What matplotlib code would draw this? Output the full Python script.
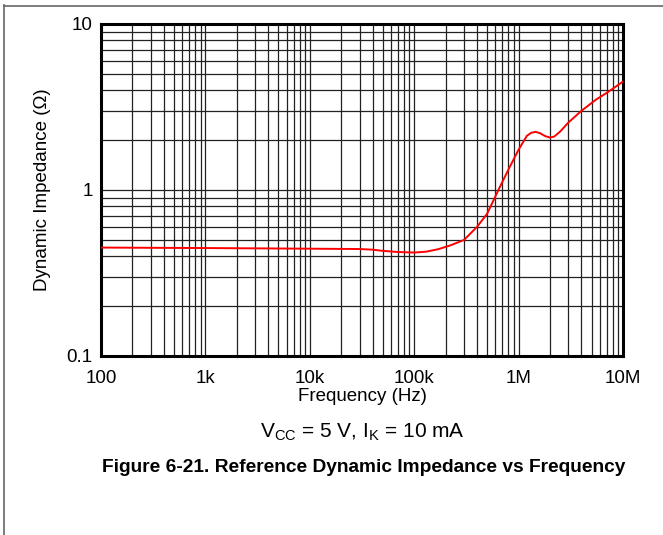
import matplotlib.pyplot as plt
from matplotlib.lines import Line2D
from matplotlib.ticker import LogLocator, FixedLocator, FixedFormatter, NullFormatter

plt.rcParams['font.family'] = ['Liberation Sans', 'DejaVu Sans']

# dynamic impedance readings (Hz, ohm)
freq = [100, 1e3, 1e4, 3e4, 4e4, 5e4, 7e4, 1e5, 1.3e5, 1.7e5, 2.2e5, 3e5, 4e5,
        5e5, 6.5e5, 8e5, 1e6, 1.2e6, 1.32e6, 1.45e6, 1.6e6, 1.8e6, 2e6, 2.2e6,
        2.5e6, 3e6, 4e6, 5.5e6, 7e6, 1e7]
impedance = [0.45, 0.447, 0.443, 0.441, 0.437, 0.43, 0.423, 0.42, 0.425, 0.44,
             0.463, 0.50, 0.60, 0.72, 1.02, 1.33, 1.75, 2.12, 2.21, 2.24, 2.2,
             2.11, 2.07, 2.1, 2.25, 2.55, 3.0, 3.5, 3.85, 4.5]

xticks = [1e2, 1e3, 1e4, 1e5, 1e6, 1e7]
xlabels = ['100', '1k', '10k', '100k', '1M', '10M']
yticks = [0.1, 1, 10]
ylabels = ['0.1', '1', '10']

fig = plt.figure(figsize=(6.63, 5.35), dpi=100)
ax = fig.add_axes([101 / 663, 1 - 356 / 535, 522 / 663, 332 / 535])

ax.plot(freq, impedance, color='red', lw=1.4, zorder=3)

ax.set_xscale('log')
ax.set_yscale('log')
ax.set_xlim(1e2, 1e7)
ax.set_ylim(0.1, 10)

ax.xaxis.set_major_locator(FixedLocator(xticks))
ax.xaxis.set_major_formatter(FixedFormatter(xlabels))
ax.yaxis.set_major_locator(FixedLocator(yticks))
ax.yaxis.set_major_formatter(FixedFormatter(ylabels))
for axis in (ax.xaxis, ax.yaxis):
    axis.set_minor_locator(LogLocator(base=10, subs=range(2, 10), numticks=20))
    axis.set_minor_formatter(NullFormatter())

ax.grid(True, which='both', color='#222222', lw=0.9)
ax.tick_params(which='both', length=0, labelsize=13.5)
ax.tick_params(axis='x', pad=10)
ax.tick_params(axis='y', pad=6)
for s in ax.spines.values():
    s.set_linewidth(2.2)

ax.set_xlabel('Frequency (Hz)', fontsize=13.5, labelpad=1)
ax.set_ylabel('Dynamic Impedance (\u03a9)', fontsize=13.5, labelpad=11)

fig.text(362 / 663, 1 - 432 / 535, '$\\mathregular{V_{CC}}$ = 5 V, $\\mathregular{I_K}$ = 10 mA',
         ha='center', va='center', fontsize=15)
fig.text(364 / 663, 1 - 467 / 535, 'Figure 6-21. Reference Dynamic Impedance vs Frequency',
         ha='center', va='center', fontsize=13.8, fontweight='bold')

# page frame
fig.add_artist(Line2D([4 / 663, 4 / 663], [0, 1 - 5 / 535], transform=fig.transFigure,
                      color='#666666', lw=1.2))
fig.add_artist(Line2D([4 / 663, 1], [1 - 5.5 / 535, 1 - 5.5 / 535], transform=fig.transFigure,
                      color='#666666', lw=1.2))

fig.savefig('out.png', dpi=100)
